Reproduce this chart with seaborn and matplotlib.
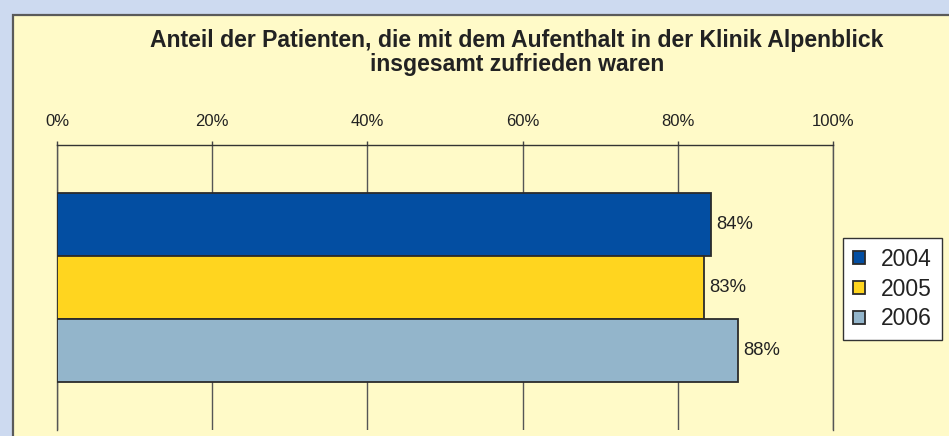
import matplotlib
matplotlib.use("Agg")
import matplotlib.pyplot as plt
from matplotlib.patches import Rectangle
import seaborn as sns
import pandas as pd

# Data
years = ["2004", "2005", "2006"]
values = [84.3, 83.4, 87.7]
group = ["Zufrieden"] * 3
xticks = [0, 20, 40, 60, 80, 100]
xticklabels = ["0%", "20%", "40%", "60%", "80%", "100%"]
title_lines = ["Anteil der Patienten, die mit dem Aufenthalt in der Klinik Alpenblick",
               "insgesamt zufrieden waren"]
colors = ["#034EA2", "#FFD51F", "#93B5CB"]

sns.set_theme(style="white")
plt.rcParams["font.family"] = ["Liberation Sans", "DejaVu Sans"]

W, H = 949, 436
fig = plt.figure(figsize=(W / 100, H / 100), dpi=100)
fig.patch.set_facecolor("#CDDAF0")
bg = fig.add_axes([0, 0, 1, 1], zorder=-10)
bg.set_axis_off()
bg.set_xlim(0, 1)
bg.set_ylim(0, 1)
bg.add_patch(Rectangle((13 / W, -0.1), 1.2, (H - 15) / H + 0.1,
                       facecolor="#FFFAC8", edgecolor="#5a5a5a", lw=1.6,
                       clip_on=False))

ax = fig.add_axes([57 / W, (H - 430) / H, 776 / W, 285 / H])
ax.set_facecolor("none")

df = pd.DataFrame({"group": group, "year": years, "value": values})
sns.barplot(data=df, x="value", y="group", hue="year", palette=colors,
            saturation=1, orient="h", width=0.8, edgecolor="#2b2b2b",
            linewidth=1.3, ax=ax, zorder=3)

ax.set_xlim(0, 100)
ax.set_ylim(0.603, -0.603)
ax.set_xticks(xticks)
ax.set_xticklabels(xticklabels)
ax.xaxis.tick_top()
ax.tick_params(axis="x", direction="out", length=3, width=1, color="#444444",
               pad=8.5, labelsize=12, labelcolor="#222222", bottom=False, top=True)
ax.tick_params(axis="y", left=False, labelleft=False)
ax.set_xlabel("")
ax.set_ylabel("")
ax.grid(axis="x", color="#555555", lw=1)
ax.set_axisbelow(True)
ax.spines["bottom"].set_visible(False)
for s in ["left", "right"]:
    ax.spines[s].set_color("#555555")
    ax.spines[s].set_linewidth(1)
ax.spines["top"].set_color("#333333")
ax.spines["top"].set_linewidth(1)

for c in ax.containers:
    ax.bar_label(c, fmt="%.0f%%", padding=4, fontsize=13.3, color="#222222")

handles, labels = ax.get_legend_handles_labels()
leg = ax.legend(handles, labels, loc="upper left",
                bbox_to_anchor=(843 / W, (H - 238) / H), bbox_transform=fig.transFigure,
                fontsize=16.5, frameon=True, fancybox=False, framealpha=1,
                edgecolor="#333333", facecolor="white", handlelength=0.53,
                handleheight=0.53, handletextpad=0.72, labelspacing=0.3,
                borderpad=0.42, borderaxespad=0)
leg.get_frame().set_linewidth(1)
for t in leg.get_texts():
    t.set_color("#222222")

for line, yb in zip(title_lines, [47, 71]):
    fig.text(517 / W, 1 - yb / H, line, ha="center", va="baseline", fontsize=16.6,
             fontweight="bold", color="#222222")

fig.savefig("out.png", dpi=100, facecolor=fig.get_facecolor())
